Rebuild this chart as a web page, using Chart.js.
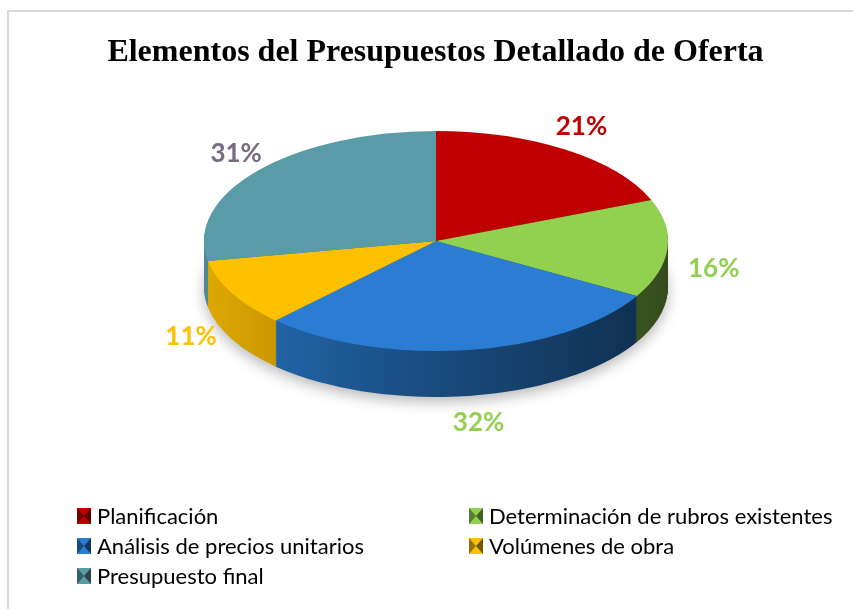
<!DOCTYPE html>
<html>
<head>
<meta charset="utf-8">
<script src="https://cdn.jsdelivr.net/npm/chart.js@4.4.0/dist/chart.umd.min.js"></script>
<style>
  body { margin: 0; background: #fff; }
  #wrap { width: 853px; height: 609px; }
</style>
</head>
<body>
<div id="wrap"><canvas id="mycanvas" width="853" height="609"></canvas></div>
<script>
// data
var categories = ['Planificación', 'Determinación de rubros existentes', 'Análisis de precios unitarios', 'Volúmenes de obra', 'Presupuesto final'];
var values = [21, 16, 32, 11, 31];
var sliceColors = ['#C00000', '#92D050', '#2A7DD2', '#FFC000', '#599CA8'];
var labelColors = ['#C00000', '#92D050', '#92D050', '#FFC000', '#786A80'];

// where the tilted pie goes on the page
var CX = 436, CY = 241, RX = 232, RY = 110, DEPTH = 46;

function shade(hex, f) {
  var n = parseInt(hex.slice(1), 16);
  var r = Math.round(((n >> 16) & 255) * f), g = Math.round(((n >> 8) & 255) * f), b = Math.round((n & 255) * f);
  return 'rgb(' + r + ',' + g + ',' + b + ')';
}

function tilt(ctx, arc, dy) {
  ctx.translate(CX, CY + dy);
  ctx.scale(RX / arc.outerRadius, RY / arc.outerRadius);
  ctx.translate(-arc.x, -arc.y);
}

function slicePath(ctx, arc) {
  ctx.beginPath();
  ctx.moveTo(arc.x, arc.y);
  ctx.arc(arc.x, arc.y, arc.outerRadius, arc.startAngle, arc.endAngle);
  ctx.closePath();
}

var pie3d = {
  id: 'pie3d',
  beforeDraw: function(chart) {
    var ctx = chart.ctx;
    ctx.save();
    ctx.strokeStyle = '#D9D9D9';
    ctx.lineWidth = 2;
    ctx.strokeRect(8, 11, 900, 700);
    ctx.restore();
  },
  beforeDatasetsDraw: function(chart) {
    var ctx = chart.ctx;
    var arcs = chart.getDatasetMeta(0).data;
    // side walls: stack of darker copies pushed down
    for (var d = DEPTH; d >= 1; d--) {
      for (var i = 0; i < arcs.length; i++) {
        var a = arcs[i];
        ctx.save();
        if (d === DEPTH) {
          ctx.shadowColor = 'rgba(0,0,0,0.28)';
          ctx.shadowBlur = 14;
          ctx.shadowOffsetY = 5;
        }
        tilt(ctx, a, d);
        var g = ctx.createLinearGradient(a.x - a.outerRadius, 0, a.x + a.outerRadius, 0);
        g.addColorStop(0, shade(sliceColors[i], 0.88));
        g.addColorStop(0.45, shade(sliceColors[i], 0.62));
        g.addColorStop(1, shade(sliceColors[i], 0.36));
        ctx.fillStyle = g;
        slicePath(ctx, a);
        ctx.fill();
        ctx.restore();
      }
    }
    ctx.save();
    tilt(ctx, arcs[0], 0);
  },
  afterDatasetsDraw: function(chart) {
    var ctx = chart.ctx;
    ctx.restore();
    var arcs = chart.getDatasetMeta(0).data;
    ctx.save();
    ctx.font = 'bold 26px Lato';
    ctx.textAlign = 'center';
    ctx.textBaseline = 'middle';
    for (var i = 0; i < arcs.length; i++) {
      var a = arcs[i];
      var mid = (a.startAngle + a.endAngle) / 2;
      var c = Math.cos(mid), s = Math.sin(mid);
      var kx = s < 0 ? 1.12 : (s > 0.9 ? 1.3 : 1.2);
      var x = CX + RX * kx * c;
      var y = CY + RY * 1.25 * s + DEPTH * Math.max(0, s + 0.5) / 1.5;
      ctx.fillStyle = labelColors[i];
      ctx.fillText(values[i] + '%', x, y);
    }
    ctx.restore();
  },
  afterDraw: function(chart) {
    var ctx = chart.ctx;
    var colX = [77, 469];
    ctx.save();
    ctx.font = '22px Lato';
    ctx.textBaseline = 'middle';
    for (var i = 0; i < categories.length; i++) {
      var x = colX[i % 2], y = 516 + 30 * Math.floor(i / 2);
      var col = sliceColors[i];
      ctx.fillStyle = col;
      ctx.fillRect(x, y - 8, 14, 16);
      // little bevel like the office marker
      ctx.fillStyle = shade(col, 0.6);
      ctx.beginPath(); ctx.moveTo(x, y - 8); ctx.lineTo(x + 7, y); ctx.lineTo(x, y + 8); ctx.fill();
      ctx.fillStyle = shade(col, 0.45);
      ctx.beginPath(); ctx.moveTo(x + 14, y - 8); ctx.lineTo(x + 7, y); ctx.lineTo(x + 14, y + 8); ctx.fill();
      ctx.fillStyle = '#000';
      ctx.fillText(categories[i], x + 20, y + 1);
    }
    ctx.restore();
  }
};

var chartdata = {
  labels: categories,
  datasets: [{
    data: values,
    backgroundColor: sliceColors,
    borderWidth: 0
  }]
};

var x = document.getElementById('mycanvas');
var pieChart = new Chart(x, {
  type: 'pie',
  data: chartdata,
  options: {
    responsive: false,
    animation: false,
    layout: { padding: { top: 0, bottom: 20, left: 38, right: 20 } },
    plugins: {
      legend: { display: false },
      tooltip: { enabled: false },
      title: {
        display: true,
        text: 'Elementos del Presupuestos Detallado de Oferta',
        color: '#000',
        font: { family: 'Liberation Serif', size: 32, weight: 'bold' },
        padding: { top: 34, bottom: 20 }
      }
    }
  },
  plugins: [pie3d]
});
</script>
</body>
</html>
